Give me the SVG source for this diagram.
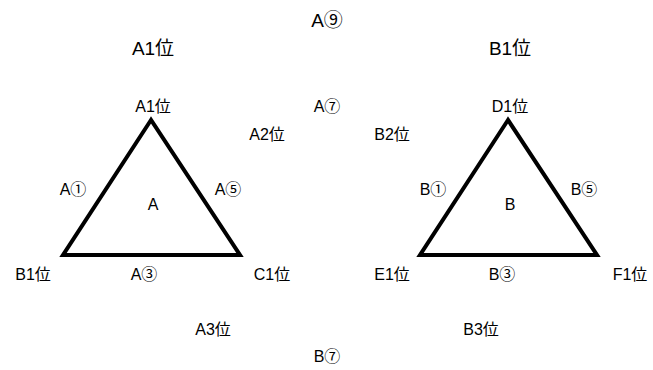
<svg xmlns="http://www.w3.org/2000/svg" width="653" height="370" viewBox="0 0 653 370">
<style>
text{font-family:"Liberation Sans","Noto Sans CJK JP",sans-serif;fill:#000;text-anchor:middle}
.s{font-size:16px}
.l{font-size:19px}
.tri{fill:none;stroke:#000;stroke-width:4;stroke-linejoin:miter}
</style>
<rect width="653" height="370" fill="#fff"/>
<g id="connectors">
<polygon id="triA" class="tri" points="151,120 63,255 240,255"/>
<polygon id="triB" class="tri" points="508,120 420,255 597,255"/>
</g>
<g id="labels">
<text class="l" x="327" y="27">A⑨</text>
<text class="l" x="153" y="55">A1位</text>
<text class="l" x="510" y="55">B1位</text>
<text class="s" x="153" y="112">A1位</text>
<text class="s" x="267" y="140">A2位</text>
<text class="s" x="327" y="112">A⑦</text>
<text class="s" x="510" y="112">D1位</text>
<text class="s" x="392" y="140">B2位</text>
<text class="s" x="73" y="195">A①</text>
<text class="s" x="153" y="210">A</text>
<text class="s" x="228" y="195">A⑤</text>
<text class="s" x="33" y="280">B1位</text>
<text class="s" x="144" y="280">A③</text>
<text class="s" x="272" y="280">C1位</text>
<text class="s" x="213" y="335">A3位</text>
<text class="s" x="327" y="362">B⑦</text>
<text class="s" x="433" y="195">B①</text>
<text class="s" x="510" y="210">B</text>
<text class="s" x="584" y="195">B⑤</text>
<text class="s" x="392" y="280">E1位</text>
<text class="s" x="502" y="280">B③</text>
<text class="s" x="630" y="280">F1位</text>
<text class="s" x="481" y="335">B3位</text>
</g>
</svg>
